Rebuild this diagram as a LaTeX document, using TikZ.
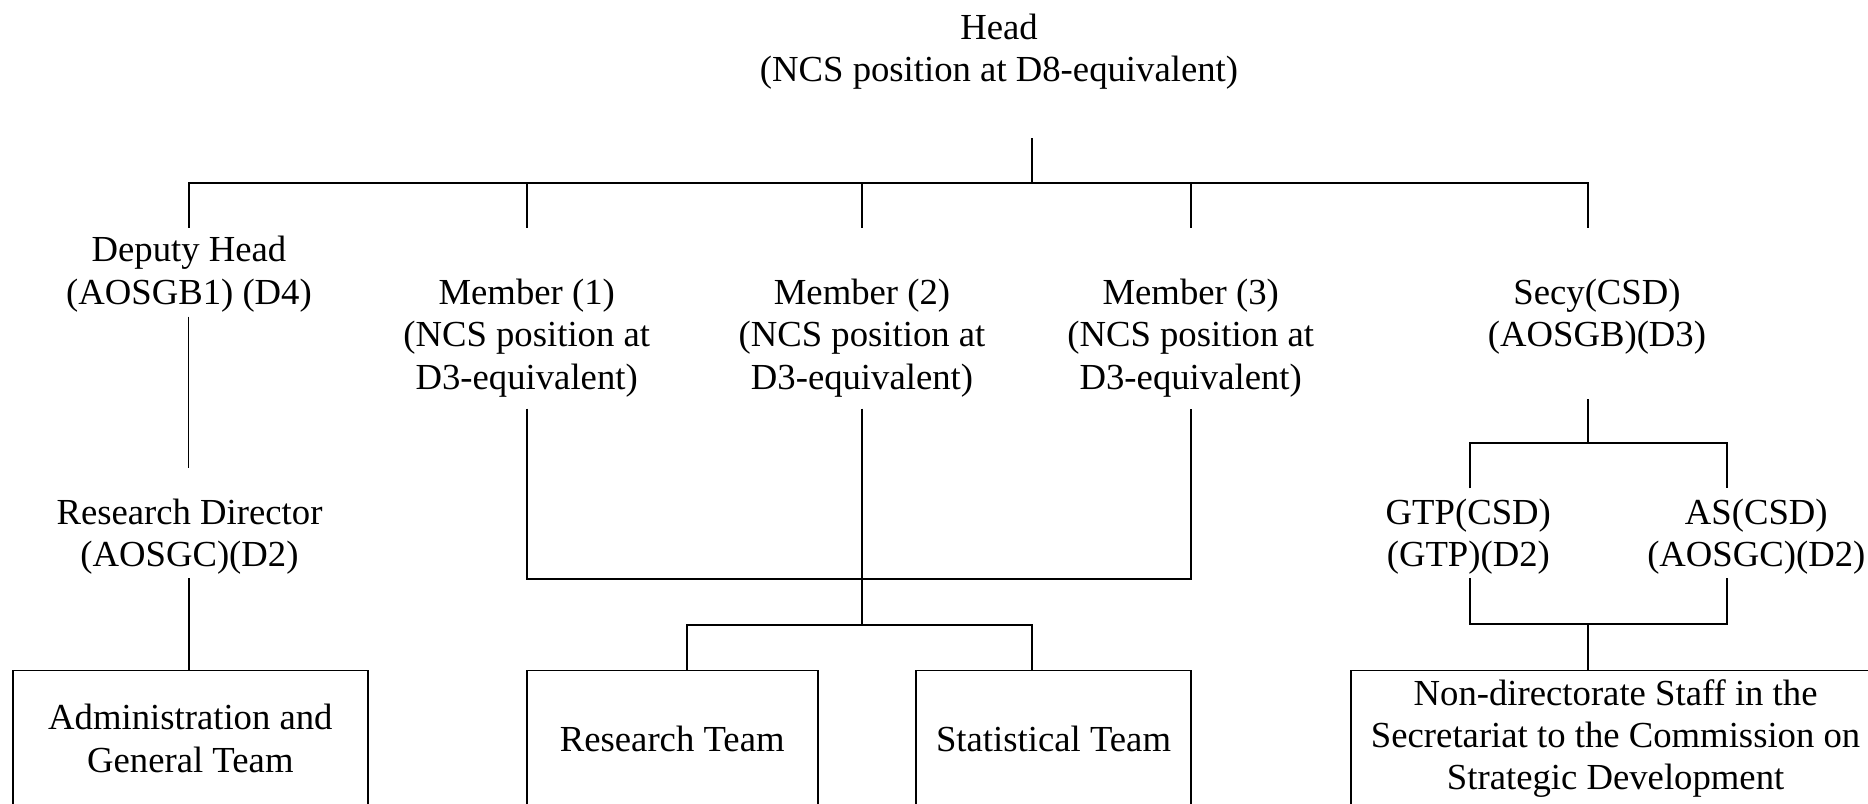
\documentclass[tikz,border=0pt]{standalone}
\usepackage{fontspec}
\setmainfont{Liberation Serif}
\newcommand{\orgfont}{\fontsize{18.35pt}{21.2pt}\selectfont}
\tikzset{
  post/.style={align=center,inner sep=0pt,anchor=base,font=\orgfont},
  team/.style={draw,line width=0.85pt,align=center,inner sep=0pt,anchor=north,
    minimum height=68.25pt,font=\orgfont},
  link/.style={line width=0.85pt},
  thinlink/.style={line width=0.5pt}
}
\begin{document}
\begin{tikzpicture}[x=0.5pt,y=0.5pt,yscale=-1]
\useasboundingbox (0,0) rectangle (1868,803);

% Text Node (base = last line)
\node[post] (head) at (999,81.7) {Head\\(NCS position at D8-equivalent)};
% Text Node
\node[post] (deputy) at (189,304) {Deputy Head\\(AOSGB1) (D4)};
% Text Node
\node[post] (mem1) at (526.7,389.3) {Member (1)\\(NCS position at\\D3-equivalent)};
% Text Node
\node[post] (mem2) at (862,389.3) {Member (2)\\(NCS position at\\D3-equivalent)};
% Text Node
\node[post] (mem3) at (1190.7,389.3) {Member (3)\\(NCS position at\\D3-equivalent)};
% Text Node
\node[post] (secy) at (1597,346.7) {Secy(CSD)\\(AOSGB)(D3)};
% Text Node
\node[post] (resdir) at (189.5,566.7) {Research Director\\(AOSGC)(D2)};
% Text Node
\node[post] (gtp) at (1468.3,566.7) {GTP(CSD)\\(GTP)(D2)};
% Text Node
\node[post] (as) at (1756.3,566.7) {AS(CSD)\\(AOSGC)(D2)};

%Shape: Rectangle
\node[team,minimum width=177.65pt] (admin) at (190.35,669.5) {Administration and\\General Team};
%Shape: Rectangle
\node[team,minimum width=145.5pt] (research) at (672.2,669.5) {Research Team};
%Shape: Rectangle
\node[team,minimum width=137.8pt] (stat) at (1053.5,669.5) {Statistical Team};
%Shape: Rectangle
\node[team,minimum width=264.35pt] (nondir) at (1615.6,669.5) {Non-directorate Staff in the\\Secretariat to the Commission on\\Strategic Development};

% line ends
\coordinate (hd) at (1031.7,138.3);
\coordinate (bus) at (1031.7,182.7);
\coordinate (dt) at (188.7,227.5);
\coordinate (m1t) at (526.7,227.5);
\coordinate (m2t) at (862,227.5);
\coordinate (m3t) at (1190.7,227.5);
\coordinate (st) at (1588,227.5);
\coordinate (db) at (188.7,316.7);
\coordinate (rdt) at (188.7,467.7);
\coordinate (rdb) at (189,578.3);
\coordinate (m1b) at (526.7,408.7);
\coordinate (m2b) at (862,408.7);
\coordinate (m3b) at (1190.7,408.7);
\coordinate (mj) at (862,579);
\coordinate (tj) at (862,625);
\coordinate (sb) at (1588,399.3);
\coordinate (sj) at (1588,442.7);
\coordinate (gt) at (1469.7,488.3);
\coordinate (at) at (1727,488.3);
\coordinate (gb) at (1469.7,578.3);
\coordinate (ab) at (1727,578.3);
\coordinate (nj) at (1588,624);

%Straight Lines
\draw[link] (hd) -- (bus);
\draw[link] (dt) -- (dt |- bus) -- (st |- bus) -- (st);
\foreach \nm in {m1t,m2t,m3t}
  \draw[link] (\nm |- bus) -- (\nm);
\draw[thinlink] (db) -- (rdt);
\draw[link] (rdb) -- (rdb |- admin.north);
\draw[link] (m1b) |- (mj) -| (m3b);
\draw[link] (m2b) -- (tj);
\draw[link] ([xshift=7.25pt]research.north) |- (tj) -| ([xshift=-10.9pt]stat.north);
\draw[link] (sb) -- (sj);
\draw[link] (gt) |- (sj) -| (at);
\draw[link] (gb) |- (nj) -| (ab);
\draw[link] (nj) -- (nj |- nondir.north);

\end{tikzpicture}
\end{document}
